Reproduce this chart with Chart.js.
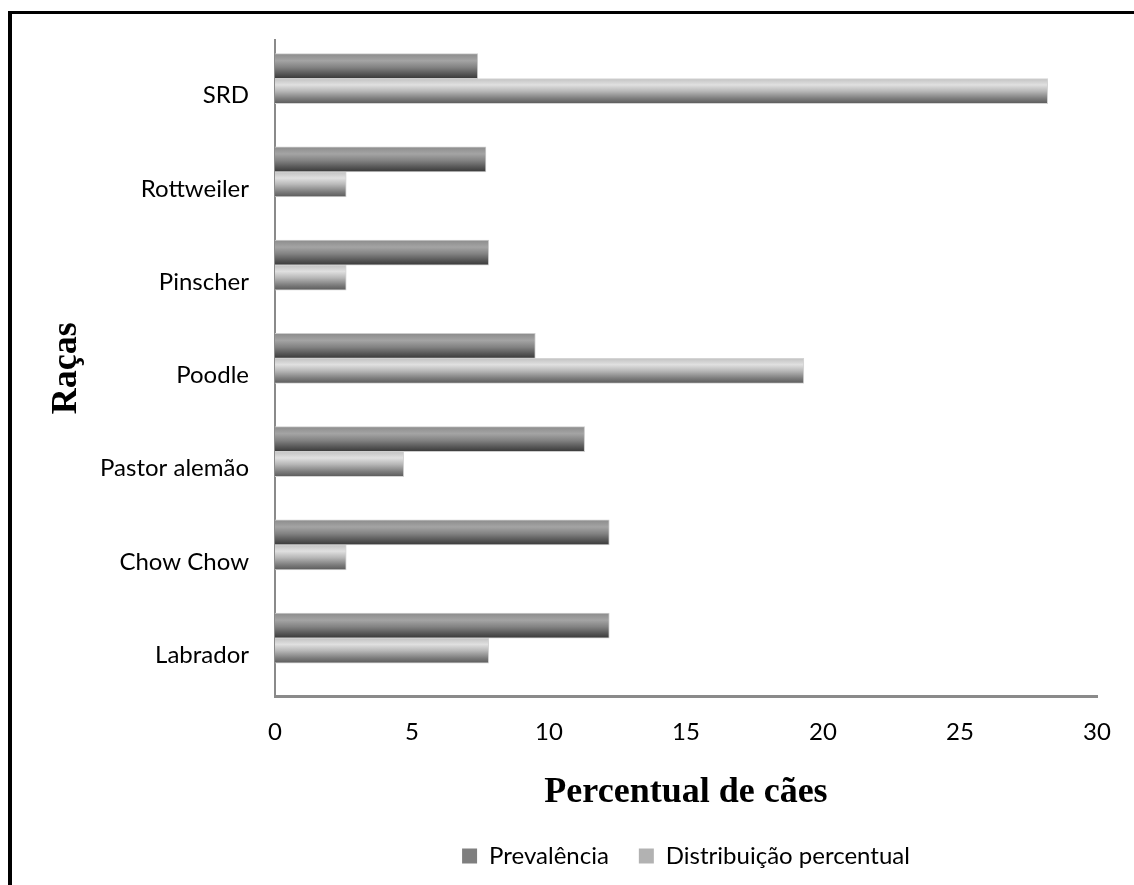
<!DOCTYPE html>
<html>
<head>
<meta charset="utf-8">
<script src="https://cdn.jsdelivr.net/npm/chart.js@4/dist/chart.umd.min.js"></script>
<style>
  html, body { margin: 0; padding: 0; background: #fff; overflow: hidden; }
  #frame { position: absolute; left: 8px; top: 11px; width: 1300px; height: 1000px;
           border-left: 4px solid #000; border-top: 3px solid #000; }
  #wrap { position: absolute; left: 0; top: 0; width: 1134px; height: 885px; }
</style>
</head>
<body>
<div id="frame"></div>
<div id="wrap"><canvas id="grafico" width="1134" height="885"></canvas></div>
<script>
// raças de baixo para cima (Labrador fica junto ao eixo x)
const racas = ['Labrador', 'Chow Chow', 'Pastor alemão', 'Poodle', 'Pinscher', 'Rottweiler', 'SRD'];
const prevalencia = [12.2, 12.2, 11.3, 9.5, 7.8, 7.7, 7.4];
const distribuicao = [7.8, 2.6, 4.7, 19.3, 2.6, 2.6, 28.2];
const xTicks = [0, 5, 10, 15, 20, 25, 30];
const coresLegenda = ['#7f7f7f', '#b2b2b2'];

const BAR = 25;
const fonteTexto = 'Lato, "Open Sans", sans-serif';
const fonteTitulo = '"Liberation Serif", "Times New Roman", serif';

// degradê vertical de cada barra, no estilo "cilindro" do Excel
function degrade(stops, solida) {
    return (c) => {
        const chart = c.chart;
        if (c.type !== 'data' || !chart.chartArea || !c.parsed) return solida;
        const y0 = chart.scales.y.getPixelForValue(c.parsed.y) - BAR + c.datasetIndex * BAR;
        const g = chart.ctx.createLinearGradient(0, y0, 0, y0 + BAR);
        stops.forEach(([o, cor]) => g.addColorStop(o, cor));
        return g;
    };
}

const escuro = [[0, '#8c8c8c'], [0.28, '#a4a4a4'], [0.55, '#828282'], [0.8, '#585858'], [1, '#383838']];
const claro = [[0, '#c2c2c2'], [0.25, '#e0e0e0'], [0.5, '#b8b8b8'], [0.8, '#7c7c7c'], [1, '#5a5a5a']];

const ctx = document.getElementById('grafico').getContext('2d');
new Chart(ctx, {
    type: 'bar',
    data: {
        datasets: [
            {
                label: 'Prevalência',
                data: prevalencia.map((v, i) => ({ x: v, y: i })),
                backgroundColor: degrade(escuro, coresLegenda[0]),
                borderColor: '#cdcdcd',
                borderWidth: 1,
                borderSkipped: 'start'
            },
            {
                label: 'Distribuição percentual',
                data: distribuicao.map((v, i) => ({ x: v, y: i })),
                backgroundColor: degrade(claro, coresLegenda[1]),
                borderColor: '#d4d4d4',
                borderWidth: 1,
                borderSkipped: 'start'
            }
        ]
    },
    options: {
        indexAxis: 'y',
        responsive: false,
        animation: false,
        barThickness: BAR,
        layout: { padding: { left: 45, right: 37, top: 40, bottom: 8 } },
        scales: {
            x: {
                type: 'linear',
                min: xTicks[0],
                max: xTicks[xTicks.length - 1],
                afterBuildTicks: (s) => { s.ticks = xTicks.map(v => ({ value: v })); },
                afterFit: (s) => { s.height = 118; },
                grid: { display: false, drawTicks: false },
                border: { display: true, color: '#8a8a8a', width: 3 },
                ticks: { color: '#000', padding: 22, font: { family: fonteTexto, size: 24 } },
                title: {
                    display: true,
                    text: 'Percentual de cães',
                    color: '#000',
                    padding: 0,
                    font: { family: fonteTitulo, size: 36, weight: 'bold' }
                }
            },
            y: {
                type: 'linear',
                offset: false,
                min: -0.62,
                max: 6.41,
                afterFit: (s) => { s.width = 275 - 45; },
                grid: { display: false, drawTicks: false },
                border: { display: true, color: '#8a8a8a', width: 2 },
                ticks: {
                    stepSize: 1,
                    includeBounds: false,
                    labelOffset: 17,
                    color: '#000',
                    padding: 26,
                    font: { family: fonteTexto, size: 24 },
                    callback: (v) => racas[v] ?? ''
                },
                title: {
                    display: true,
                    text: 'Raças',
                    color: '#000',
                    padding: 0,
                    font: { family: fonteTitulo, size: 36, weight: 'bold' }
                }
            }
        },
        plugins: {
            legend: {
                position: 'bottom',
                fullSize: false,
                maxHeight: 63,
                labels: {
                    color: '#000',
                    boxWidth: 15,
                    boxHeight: 15,
                    padding: 30,
                    font: { family: fonteTexto, size: 24 },
                    generateLabels: (chart) => Chart.defaults.plugins.legend.labels.generateLabels(chart)
                        .map((l, i) => ({ ...l, fillStyle: coresLegenda[i], lineWidth: 0 }))
                }
            },
            tooltip: { enabled: false }
        }
    }
});
</script>
</body>
</html>
